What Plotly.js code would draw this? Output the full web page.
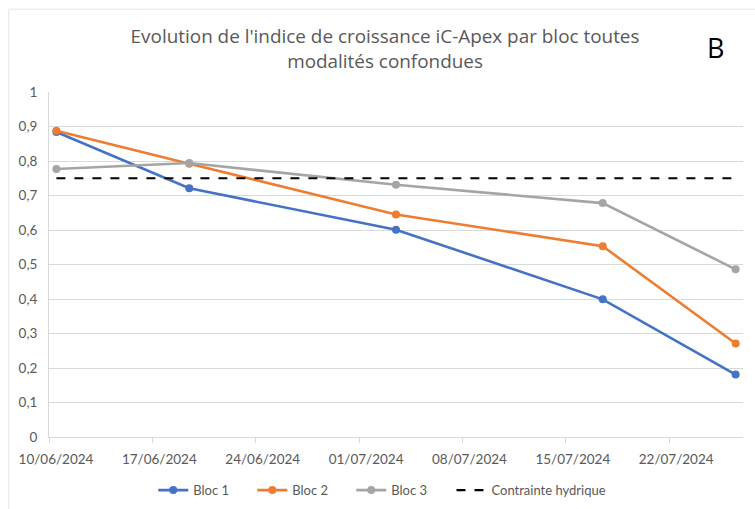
<!DOCTYPE html>
<html><head><meta charset="utf-8">
<script src="https://cdn.plot.ly/plotly-3.0.1.min.js"></script>
<style>html,body{margin:0;padding:0;background:#fff}#chart{width:755px;height:509px}</style>
</head><body><div id="chart"></div>
<script>
const dates = ['2024-06-10','2024-06-19','2024-07-03','2024-07-17','2024-07-26'];
const bloc1 = [0.884, 0.721, 0.601, 0.399, 0.181];
const bloc2 = [0.888, 0.792, 0.645, 0.553, 0.271];
const bloc3 = [0.777, 0.794, 0.731, 0.678, 0.486];
const contrainte = [0.75, 0.75];
const contrainteDates = ['2024-06-10','2024-07-26'];
const seriesNames = ['Bloc 1','Bloc 2','Bloc 3','Contrainte hydrique'];
const colors = ['#4472C4','#ED7D31','#A5A5A5','#000000'];

const mid = d => d + 'T12:00:00';
const mk = (y, i) => ({
  x: dates.map(mid), y: y, name: seriesNames[i], type: 'scatter', mode: 'lines+markers',
  line: {color: colors[i], width: 2.6}, marker: {color: colors[i], size: 8}
});
const traces = [
  mk(bloc1, 0), mk(bloc2, 1), mk(bloc3, 2),
  {x: contrainteDates.map(mid), y: contrainte, name: seriesNames[3], type: 'scatter', mode: 'lines',
   legend: 'legend2', line: {color: colors[3], width: 2.2, dash: 'dash'}}
];
const font = {family: 'Lato, "Open Sans", sans-serif', color: '#595959'};
const layout = {
  width: 755, height: 509,
  margin: {l: 49, r: 12, t: 92, b: 71.5, autoexpand: false},
  paper_bgcolor: '#fff', plot_bgcolor: '#fff',
  separators: ', ',
  font: Object.assign({size: 13}, font),
  title: {text: "Evolution de l'indice de croissance iC-Apex par bloc toutes<br>modalités confondues",
          font: {family: '"Open Sans", sans-serif', color: '#595959', size: 18.9},
          x: 0.51, xanchor: 'center', y: 0.915, yanchor: 'middle'},
  xaxis: {type: 'date', range: ['2024-06-10', '2024-07-27'], tick0: '2024-06-10', dtick: 7*86400000,
          tickformat: '%d/%m/%Y', showgrid: false, ticks: 'outside', ticklen: 5, tickcolor: '#d9d9d9',
          showline: true, linecolor: '#d9d9d9', linewidth: 1, zeroline: false,
          ticklabelshift: 7, ticklabelstandoff: 5,
          tickfont: Object.assign({}, font, {size: 13.5})},
  yaxis: {range: [0, 1], dtick: 0.1, tickformat: ',.1~f', showgrid: true, gridcolor: '#d9d9d9', gridwidth: 1,
          zeroline: false, showline: true, linecolor: '#d9d9d9', ticks: '', ticklabelstandoff: 8,
          tickfont: Object.assign({}, font, {size: 13.5})},
  legend: {orientation: 'h', xref: 'container', yref: 'container', x: 0.203, xanchor: 'left',
           y: 0.037, yanchor: 'middle', entrywidth: 54, entrywidthmode: 'pixels',
           font: Object.assign({}, font, {size: 13}), tracegroupgap: 0},
  legend2: {orientation: 'h', xref: 'container', yref: 'container', x: 0.598, xanchor: 'left',
            y: 0.037, yanchor: 'middle',
            font: Object.assign({}, font, {size: 13}), tracegroupgap: 0},
  showlegend: true,
  annotations: [{text: 'B', xref: 'paper', yref: 'paper', x: 0.961, y: 1.13, xanchor: 'center', yanchor: 'middle',
                 showarrow: false, font: {family: '"Open Sans", sans-serif', size: 27, color: '#000'}}],
  shapes: [{type: 'rect', xref: 'paper', yref: 'paper', x0: -0.058, x1: 1.1, y0: -0.3, y1: 1.24,
            line: {color: '#e6e6e6', width: 1}, layer: 'below'}]
};
Plotly.newPlot('chart', traces, layout, {displayModeBar: false, staticPlot: true});
</script></body></html>
